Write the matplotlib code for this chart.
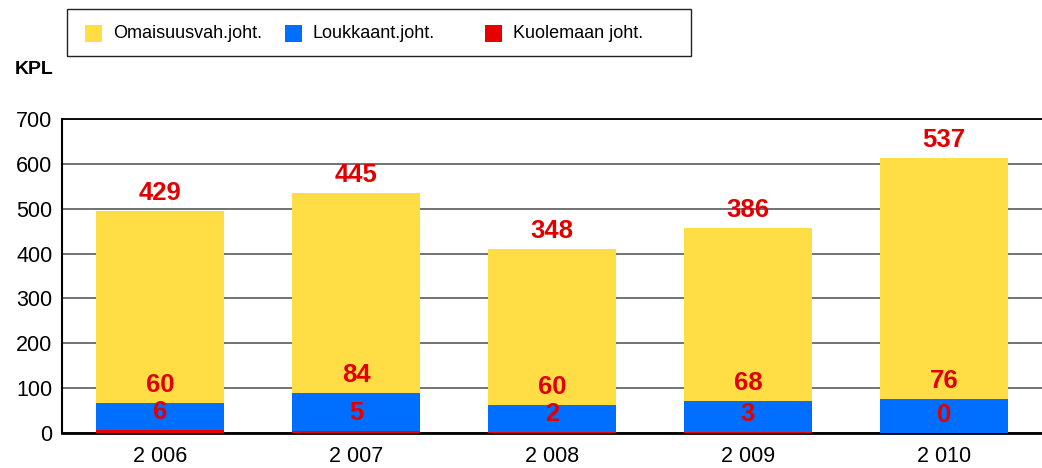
import matplotlib
matplotlib.use("Agg")
import matplotlib.pyplot as plt
import numpy as np
from matplotlib.patches import Rectangle

plt.rcParams['font.family'] = ['Liberation Sans', 'DejaVu Sans']

years = ["2 006", "2 007", "2 008", "2 009", "2 010"]
kuolemaan = [6, 5, 2, 3, 0]
loukkaant = [60, 84, 60, 68, 76]
omaisuus = [429, 445, 348, 386, 537]
series_names = ["Omaisuusvah.joht.", "Loukkaant.joht.", "Kuolemaan joht."]

c_yellow = "#FFDD44"
c_blue = "#006EFF"
c_red = "#E60000"
c_text = "#E00000"

W, H = 1042, 468
fig = plt.figure(figsize=(W / 100, H / 100), dpi=100)
ax = fig.add_axes([62 / W, 35 / H, 1 - 62 / W, (433 - 119) / H])

x = np.arange(len(years))
w = 0.65
k = np.array(kuolemaan)
l = np.array(loukkaant)
o = np.array(omaisuus)
ax.bar(x, k, w, color=c_red, zorder=3)
ax.bar(x, l, w, bottom=k, color=c_blue, zorder=3)
ax.bar(x, o, w, bottom=k + l, color=c_yellow, zorder=3)

for i in range(len(x)):
    for val, top in ((kuolemaan[i], k[i]), (loukkaant[i], k[i] + l[i]), (omaisuus[i], k[i] + l[i] + o[i])):
        ax.annotate(str(val), (x[i], top), xytext=(0, 13), textcoords="offset points",
                    ha="center", va="center", fontsize=18.5, fontweight="bold",
                    color=c_text, zorder=4)

ax.set_xlim(-0.5, len(years) - 0.5)
ax.set_ylim(0, 700)
ax.set_yticks(range(0, 701, 100))
ax.set_xticks(x)
ax.set_xticklabels(years)
ax.tick_params(axis="both", labelsize=15.5, length=0)
ax.tick_params(axis="y", pad=7)
ax.tick_params(axis="x", pad=9)
ax.yaxis.grid(True, color="#666666", linewidth=1.3, zorder=0)
ax.set_axisbelow(True)
ax.spines["right"].set_visible(False)
ax.spines["top"].set_linewidth(1.3)
ax.spines["left"].set_linewidth(1.5)
ax.spines["bottom"].set_linewidth(2)

fig.text(15 / W, 1 - 70 / H, "KPL", fontsize=14, fontweight="bold", va="center", ha="left")

# legend drawn in figure pixel coordinates
def fx(px):
    return px / W

def fy(py):
    return 1 - py / H

fig.patches.append(Rectangle((fx(67), fy(56)), fx(691) - fx(67), fy(9) - fy(56),
                             transform=fig.transFigure, facecolor="white",
                             edgecolor="#222222", linewidth=1.0, zorder=5))
leg_colors = [c_yellow, c_blue, c_red]
patch_x = [85, 285, 485]
text_x = [113, 313, 513]
for name, col, px, tx in zip(series_names, leg_colors, patch_x, text_x):
    fig.patches.append(Rectangle((fx(px), fy(42)), 17 / W, 17 / H,
                                 transform=fig.transFigure, facecolor=col,
                                 edgecolor="none", zorder=6))
    fig.text(fx(tx), fy(33.5), name, fontsize=13, va="center", ha="left", zorder=6)

fig.savefig("out.png", dpi=100)
